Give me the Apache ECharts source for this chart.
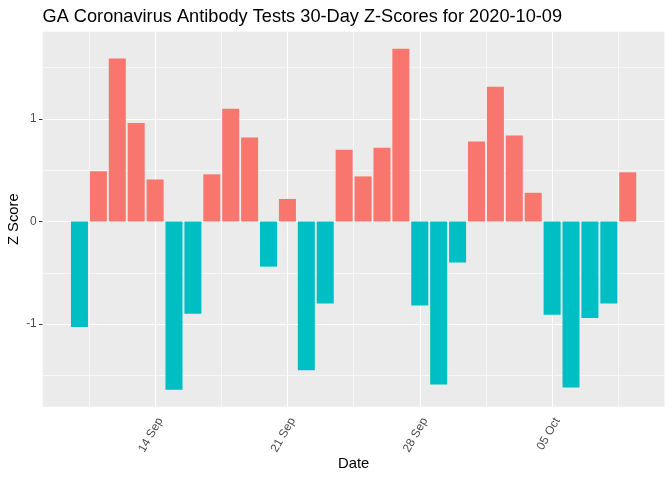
<!DOCTYPE html>
<html>
<head>
<meta charset="utf-8">
<script src="https://cdn.jsdelivr.net/npm/echarts@6/dist/echarts.min.js"></script>
<style>html,body{margin:0;padding:0;background:#fff}#c{width:672px;height:480px}</style>
</head>
<body>
<div id="c"></div>
<script>
const dates = ['2020-09-10','2020-09-11','2020-09-12','2020-09-13','2020-09-14','2020-09-15','2020-09-16','2020-09-17','2020-09-18','2020-09-19','2020-09-20','2020-09-21','2020-09-22','2020-09-23','2020-09-24','2020-09-25','2020-09-26','2020-09-27','2020-09-28','2020-09-29','2020-09-30','2020-10-01','2020-10-02','2020-10-03','2020-10-04','2020-10-05','2020-10-06','2020-10-07','2020-10-08','2020-10-09'];
const zScores = [-1.03,0.49,1.59,0.96,0.41,-1.64,-0.90,0.46,1.10,0.82,-0.44,0.22,-1.45,-0.80,0.70,0.44,0.72,1.685,-0.82,-1.59,-0.40,0.78,1.315,0.84,0.28,-0.91,-1.62,-0.94,-0.80,0.48];
const xTickDates = ['2020-09-14','2020-09-21','2020-09-28','2020-10-05'];
const xTickLabels = ['14 Sep','21 Sep','28 Sep','05 Oct'];
const xMinorDates = ['2020-09-10T12:00','2020-09-17T12:00','2020-09-24T12:00','2020-10-01T12:00','2020-10-08T12:00'];
const yTicks = [-1, 0, 1];
const yMinor = [-1.5, -0.5, 0.5, 1.5];

const DAY = 86400000;
const base = Date.parse('2020-09-01T00:00:00Z');
const toDay = s => (Date.parse(s.length > 10 ? s + ':00Z' : s + 'T00:00:00Z') - base) / DAY;
const xs = dates.map(toDay);
const xTicks = xTickDates.map(toDay);
const xMinor = xMinorDates.map(toDay);

const HALF = 0.45; // half bar width in days (ggplot default width 0.9)
const xLo = Math.min(...xs) - HALF, xHi = Math.max(...xs) + HALF;
const xPad = (xHi - xLo) * 0.05;
const yLo = Math.min(...zScores), yHi = Math.max(...zScores);
const yPad = (yHi - yLo) * 0.05;

const labelMap = {};
xTicks.forEach((v, i) => labelMap[v] = xTickLabels[i]);

const gridLines = [];
xTicks.forEach(v => gridLines.push({xAxis: v, lineStyle: {width: 1.1}}));
xMinor.forEach(v => gridLines.push({xAxis: v, lineStyle: {width: 0.55}}));
yTicks.forEach(v => gridLines.push({yAxis: v, lineStyle: {width: 1.1}}));
yMinor.forEach(v => gridLines.push({yAxis: v, lineStyle: {width: 0.55}}));

const chart = echarts.init(document.getElementById('c'), null, {renderer: 'canvas'});
chart.setOption({
  animation: false,
  backgroundColor: '#ffffff',
  title: {
    text: 'GA Coronavirus Antibody Tests 30-Day Z-Scores for 2020-10-09',
    left: 42.5, top: 7.5, padding: 0,
    textStyle: {fontFamily: 'Liberation Sans', fontSize: 18.2, fontWeight: 'normal', color: '#000'}
  },
  grid: {left: 42.7, right: 7.5, top: 31.7, bottom: 73.3, show: true, backgroundColor: '#EBEBEB', borderWidth: 0,
         containLabel: false, outerBoundsMode: 'none'},
  xAxis: {
    type: 'value', min: xLo - xPad, max: xHi + xPad,
    name: 'Date', nameLocation: 'middle', nameGap: 50, nameMoveOverlap: false,
    nameTextStyle: {fontFamily: 'Liberation Sans', fontSize: 14.8, color: '#000'},
    axisLine: {show: false},
    splitLine: {show: false},
    axisTick: {show: true, customValues: xTicks, length: 3.7, lineStyle: {color: '#333333', width: 1}},
    axisLabel: {
      customValues: xTicks, rotate: 60, margin: 9, verticalAlign: 'top',
      fontFamily: 'Liberation Sans', fontSize: 11.9, color: '#4D4D4D',
      formatter: v => labelMap[v] || ''
    }
  },
  yAxis: {
    type: 'value', min: yLo - yPad, max: yHi + yPad,
    name: 'Z Score', nameLocation: 'middle', nameGap: 21, nameRotate: 90, nameMoveOverlap: false,
    nameTextStyle: {fontFamily: 'Liberation Sans', fontSize: 14.8, color: '#000'},
    axisLine: {show: false},
    splitLine: {show: false},
    axisTick: {show: true, customValues: yTicks, length: 3.7, lineStyle: {color: '#333333', width: 1}},
    axisLabel: {
      customValues: yTicks, margin: 6,
      fontFamily: 'Liberation Sans', fontSize: 11.9, color: '#4D4D4D'
    }
  },
  series: [
    {
      type: 'line', data: [], z: 1, silent: true,
      markLine: {
        silent: true, symbol: 'none', animation: false, z: 1,
        label: {show: false},
        lineStyle: {color: '#FFFFFF', type: 'solid'},
        emphasis: {disabled: true},
        data: gridLines
      }
    },
    {
      type: 'custom', z: 5, silent: true,
      data: xs.map((x, i) => [x, zScores[i]]),
      encode: {x: 0, y: 1},
      renderItem: (params, api) => {
        const x = api.value(0), y = api.value(1);
        const p1 = api.coord([x - HALF, Math.max(y, 0)]);
        const p2 = api.coord([x + HALF, Math.min(y, 0)]);
        return {
          type: 'rect',
          shape: {x: p1[0], y: p1[1], width: p2[0] - p1[0], height: p2[1] - p1[1]},
          style: {fill: y >= 0 ? '#F8766D' : '#00BFC4'}
        };
      }
    }
  ]
});
</script>
</body>
</html>
